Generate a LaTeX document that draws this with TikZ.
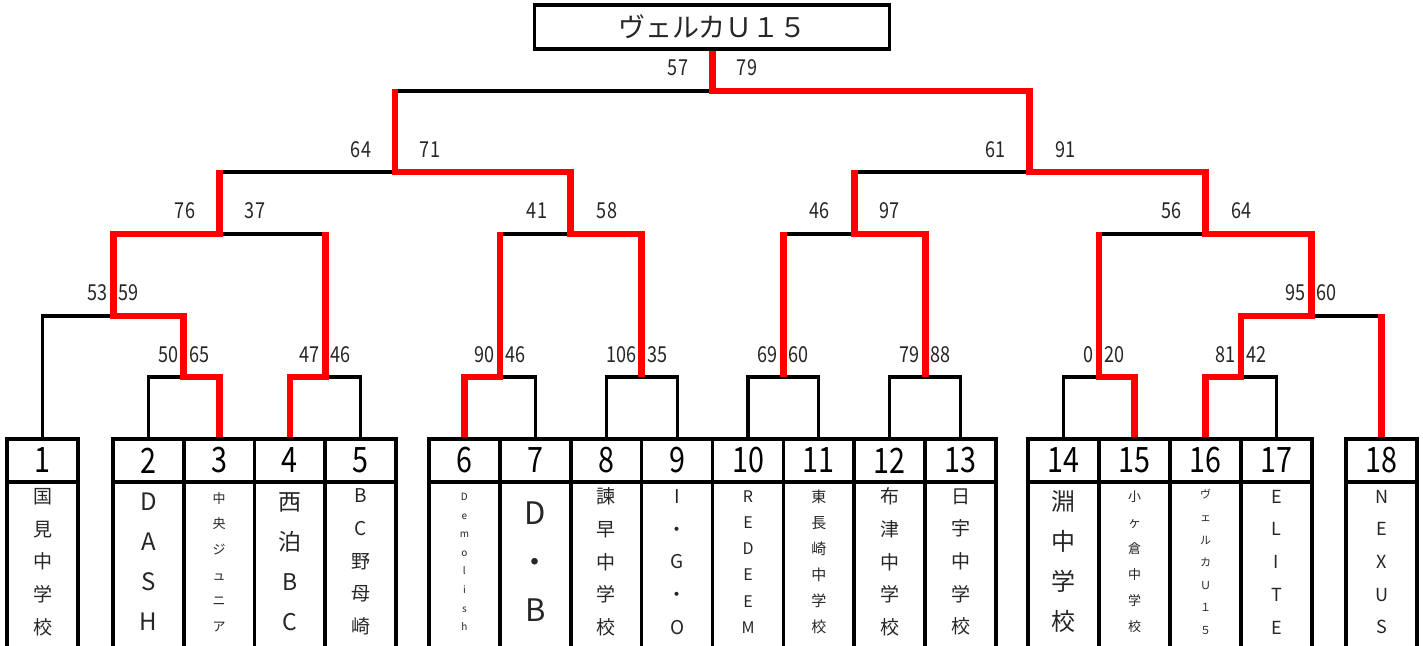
\documentclass[tikz,border=0pt]{standalone}
\usepackage{fontspec}
\newfontfamily\jp{Noto Sans CJK JP}
\newfontfamily\numfont{Noto Sans CJK JP}[FakeStretch=0.82]
\usetikzlibrary{calc}
\pgfdeclarelayer{bg}
\pgfsetlayers{bg,main}
\definecolor{txt}{HTML}{262626}
\definecolor{winred}{HTML}{FF0000}
\tikzset{
  br/.style={line width=3.2pt, black, line join=miter},
  win/.style={line width=6.8pt, winred, line join=miter},
  numcell/.style={draw, line width=3.6pt, inner sep=0pt, outer sep=0pt, minimum height=43pt,
    font=\numfont\fontsize{35}{35}\selectfont, text=black},
  cellline/.style={line width=3.6pt},
  nametext/.style={inner sep=0pt, align=center, text=txt},
  score/.style={inner sep=0pt, font=\numfont\fontsize{22}{22}\selectfont, text=txt},
}
\newcommand\team[6]{%
  \node[numcell, minimum width=#3pt] (n#1) at (#2,460.5) {#1};
  \draw[cellline] (n#1.south west) rectangle ([yshift=-200pt]n#1.south east);
  \node[nametext, font=\jp\fontsize{#4}{#5}\selectfont] (t#1) at (#2,562) {#6};
}
\begin{document}
\begin{tikzpicture}[x=1pt,y=-1pt]
\useasboundingbox (0,0) rectangle (1423,645);
\clip (0,0) rectangle (1423,645);

% junctions
\coordinate (j23) at (183.75,377);
\coordinate (j45) at (325.25,377);
\coordinate (j67) at (499.9,377);
\coordinate (j89) at (641.6,377);
\coordinate (j1011) at (783.4,377);
\coordinate (j1213) at (925.1,377);
\coordinate (j1415) at (1099,377);
\coordinate (j1617) at (1241,377);
\coordinate (j1) at (113.1,316);
\coordinate (j18) at (1311.25,316);
\coordinate (jA) at (219.2,234);
\coordinate (jB) at (570.75,234);
\coordinate (jC) at (854.25,234);
\coordinate (jD) at (1205.1,234);
\coordinate (jL) at (394.95,172);
\coordinate (jR) at (1029.7,172);
\coordinate (jT) at (712.3,91);

% title
\node[draw, line width=3.2pt, minimum width=355pt, minimum height=44pt, inner sep=0pt, outer sep=0pt,
  font=\jp\fontsize{27}{27}\selectfont, text=txt] (title) at (712.3,27) {ヴェルカＵ１５};

% teams
\team{1}{42.5}{71}{19}{32.7}{国\\見\\中\\学\\校}
\team{2}{148.4}{70.75}{24}{40}{D\\A\\S\\H}
\team{3}{219.1}{70.75}{13}{25.6}{中\\央\\ジ\\ュ\\ニ\\ア}
\team{4}{289.9}{70.75}{23}{40}{西\\泊\\B\\C}
\team{5}{360.6}{70.75}{19}{32.7}{B\\C\\野\\母\\崎}
\team{6}{464.4}{70.875}{10}{18.6}{D\\e\\m\\o\\l\\i\\s\\h}
\team{7}{535.3}{70.875}{31}{48.5}{D\\・\\B}
\team{8}{606.2}{70.875}{19}{32.7}{諫\\早\\中\\学\\校}
\team{9}{677.1}{70.875}{19}{32.7}{I\\・\\G\\・\\O}
\team{10}{748.0}{70.875}{16}{26.2}{R\\E\\D\\E\\E\\M}
\team{11}{818.8}{70.875}{15}{26}{東\\長\\崎\\中\\学\\校}
\team{12}{889.7}{70.875}{19}{32.7}{布\\津\\中\\学\\校}
\team{13}{960.6}{70.875}{19}{32.7}{日\\宇\\中\\学\\校}
\team{14}{1063.5}{71}{24}{40}{淵\\中\\学\\校}
\team{15}{1134.5}{71}{13}{26}{小\\ヶ\\倉\\中\\学\\校}
\team{16}{1205.5}{71}{11}{22.6}{ヴ\\ェ\\ル\\カ\\Ｕ\\１\\５}
\team{17}{1276.5}{71}{18}{32.7}{E\\L\\I\\T\\E}
\team{18}{1381.5}{71}{18}{32.7}{N\\E\\X\\U\\S}

% scores
\node[score] (s57) at (678,68) {57};
\node[score] (s79) at (747,68) {79};
\node[score] (s64a) at (361,150) {64};
\node[score] (s71) at (430,150) {71};
\node[score] (s61) at (995,150) {61};
\node[score] (s91) at (1065,150) {91};
\node[score] (s76) at (185,211) {76};
\node[score] (s37) at (255,211) {37};
\node[score] (s41) at (537,211) {41};
\node[score] (s58) at (607,211) {58};
\node[score] (s46a) at (819,211) {46};
\node[score] (s97) at (889,211) {97};
\node[score] (s56) at (1171,211) {56};
\node[score] (s64b) at (1241,211) {64};
\node[score, anchor=east] (s53) at (108,293) {53};
\node[score, anchor=west] (s59) at (118,293) {59};
\node[score, anchor=east] (s95) at (1306,293) {95};
\node[score, anchor=west] (s60a) at (1316.5,293) {60};
\node[score, anchor=east] (s50) at (178.5,355) {50};
\node[score, anchor=west] (s65) at (189,355) {65};
\node[score, anchor=east] (s47) at (320,355) {47};
\node[score, anchor=west] (s46b) at (330.5,355) {46};
\node[score, anchor=east] (s90) at (495,355) {90};
\node[score, anchor=west] (s46c) at (505.5,355) {46};
\node[score, anchor=east] (s106) at (636.5,355) {106};
\node[score, anchor=west] (s35) at (647,355) {35};
\node[score, anchor=east] (s69) at (778,355) {69};
\node[score, anchor=west] (s60b) at (788.5,355) {60};
\node[score, anchor=east] (s79b) at (920,355) {79};
\node[score, anchor=west] (s88) at (930,355) {88};
\node[score, anchor=east] (s0) at (1094,355) {0};
\node[score, anchor=west] (s20) at (1104.5,355) {20};
\node[score, anchor=east] (s81) at (1236,355) {81};
\node[score, anchor=west] (s42) at (1246.5,355) {42};

\begin{pgfonlayer}{bg}
\fill[white] (0,0) rectangle (1423,645);
% black bracket
\draw[br] (n2.north) |- (j23) -| (n3.north);
\draw[br] (n4.north) |- (j45) -| (n5.north);
\draw[br] (n1.north) |- (j1) -| (j23);
\draw[br] (j1) |- (jA) -| (j45);
\draw[br] (n6.north) |- (j67) -| (n7.north);
\draw[br] (n8.north) |- (j89) -| (n9.north);
\draw[br] (j67) |- (jB) -| (j89);
\draw[br] (jA) |- (jL) -| (jB);
\draw[br] (n10.north) |- (j1011) -| (n11.north);
\draw[br] (n12.north) |- (j1213) -| (n13.north);
\draw[br] (j1011) |- (jC) -| (j1213);
\draw[br] (n14.north) |- (j1415) -| (n15.north);
\draw[br] (n16.north) |- (j1617) -| (n17.north);
\draw[br] (j1617) |- (j18) -| (n18.north);
\draw[br] (j1415) |- (jD) -| (j18);
\draw[br] (jC) |- (jR) -| (jD);
\draw[br] (jL) |- (jT) -| (jR);
% winners
\draw[win] (n3.north) |- (j23) |- (j1) |- (jA) -- ([yshift=1.6pt]jA |- jL);
\draw[win] (n4.north) |- (j45) -- ([yshift=1.6pt]j45 |- jA);
\draw[win] (n6.north) |- (j67) -- ([yshift=1.6pt]j67 |- jB);
\draw[win] (j89) |- (jB) |- (jL) -- ([yshift=1.6pt]jL |- jT);
\draw[win] (j1011) -- ([yshift=1.6pt]j1011 |- jC);
\draw[win] (j1213) |- (jC) -- ([yshift=1.6pt]jC |- jR);
\draw[win] (n15.north) |- (j1415) -- ([yshift=1.6pt]j1415 |- jD);
\draw[win] (n16.north) |- (j1617) |- (j18) |- (jD) |- (jR) |- (jT) -- (title.south);
\draw[win] (n18.north) -- ([yshift=1.6pt]n18.north |- j18);
\end{pgfonlayer}
\end{tikzpicture}
\end{document}
